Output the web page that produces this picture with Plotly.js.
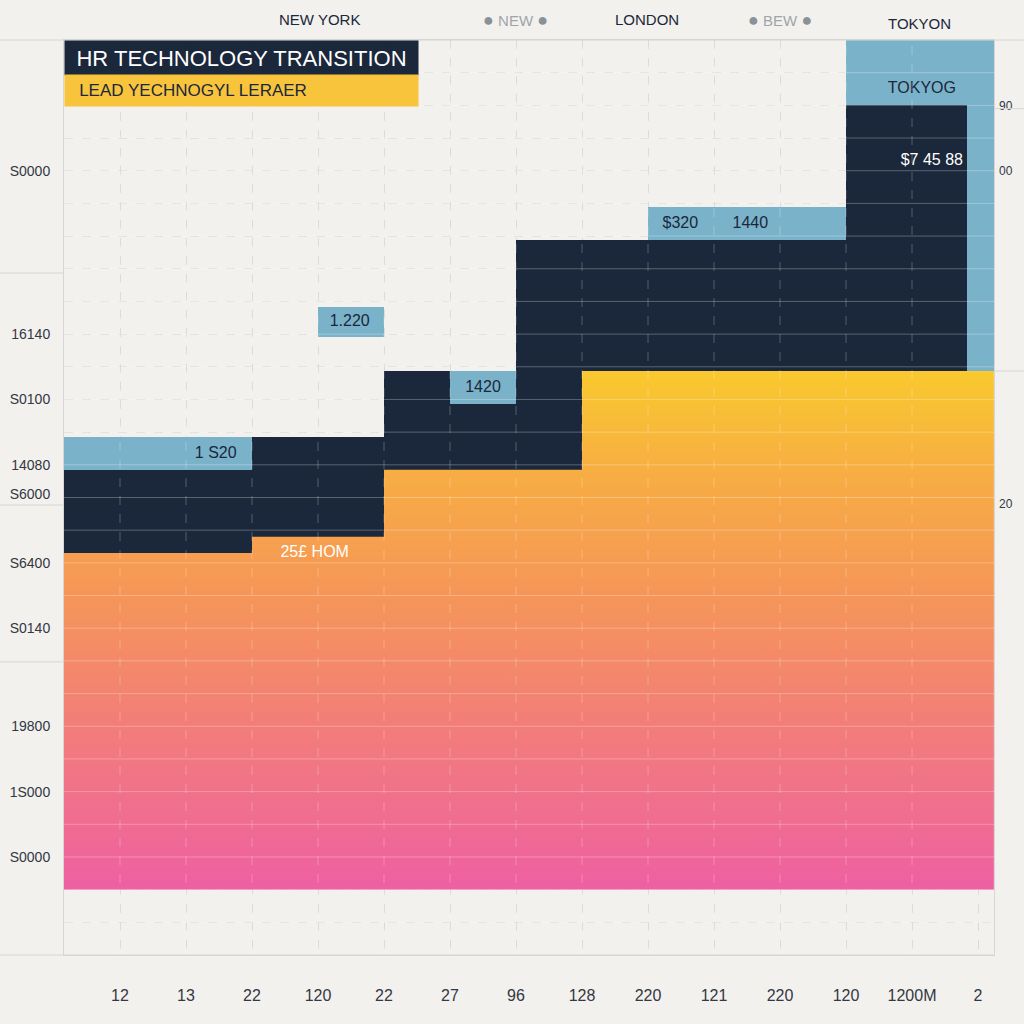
<!DOCTYPE html>
<html>
<head>
<meta charset="utf-8">
<script src="https://cdn.plot.ly/plotly-3.0.1.min.js"></script>
<style>
  html, body { margin: 0; padding: 0; background: #f2f1ee; }
  #chart { width: 1024px; height: 1024px; }
</style>
</head>
<body>
<div id="chart"></div>
<script>
// ---- categories / tick labels ----
const xTickVals = [1, 2, 3, 4, 5, 6, 7, 8, 9, 10, 11, 12, 13, 14];
const xTickText = ['12', '13', '22', '120', '22', '27', '96', '128', '220', '121', '220', '120', '1200M', '2'];
const yTickVals = [24, 19, 17, 15, 14.1, 12, 10, 7, 5, 3];
const yTickText = ['S0000', '16140', 'S0100', '14080', 'S6000', 'S6400', 'S0140', '19800', '1S000', 'S0000'];
const y2TickVals = [26, 24, 13.8];
const y2TickText = ['90', '00', '20'];
const cityNames = ['NEW YORK', 'NEW', 'LONDON', 'BEW', 'TOKYON'];

// ---- gradient base (stepped) ----
const baseFloor = 2;
const baseEdges = [0.15, 3, 5, 8, 14.24];
const baseTops = [12.3, 12.8, 14.85, 17.87];

// ---- navy blocks ----
const navyLeft = [0.15, 3, 5, 6, 7, 8, 12];
const navyRight = [3, 5, 6, 7, 8, 12, 13.83];
const navyBottom = [12.3, 12.8, 14.85, 14.85, 14.85, 17.87, 17.87];
const navyTop = [14.85, 15.85, 17.87, 16.86, 21.88, 21.88, 26.0];

// ---- light blue blocks ----
const blueLeft = [0.15, 4, 6, 9, 12, 13.83];
const blueRight = [3, 5, 7, 12, 14.24, 14.24];
const blueBottom = [14.85, 18.9, 16.86, 21.88, 26.0, 17.87];
const blueTop = [15.85, 19.83, 17.87, 22.9, 28.0, 26.0];

// ---- faded strip ----
const fadeLeft = [13.83];
const fadeRight = [14.24];
const fadeBottom = [13.8];
const fadeTop = [17.87];

// ---- value labels ----
const darkLabels = ['1 S20', '1.220', '1420', '$320', '1440', 'TOKYOG'];
const darkLabelX = [2.45, 4.48, 6.5, 9.49, 10.55, 13.15];
const darkLabelY = [15.33, 19.36, 17.36, 22.38, 22.38, 26.5];
const lightLabels = ['$7 45 88', '25£ HOM'];
const lightLabelX = [13.3, 3.95];
const lightLabelY = [24.3, 12.3];

const NAVY = '#1b273a';
const BLUE = '#7ab2ca';
const FONT = '"Liberation Sans", Arial, sans-serif';

// stepped outline of the base
const bx = [baseEdges[0]], by = [baseFloor];
for (let i = 0; i < baseTops.length; i++) {
  bx.push(baseEdges[i], baseEdges[i + 1]);
  by.push(baseTops[i], baseTops[i]);
}
bx.push(baseEdges[baseEdges.length - 1], baseEdges[0]);
by.push(baseFloor, baseFloor);

function blockTrace(L, R, B, T, color) {
  return {
    type: 'bar',
    x: L.map((l, i) => (l + R[i]) / 2),
    width: L.map((l, i) => R[i] - l),
    base: B,
    y: T.map((t, i) => t - B[i]),
    marker: { color: color, line: { width: 0 } },
    hoverinfo: 'skip',
    showlegend: false
  };
}

const traces = [
  {
    type: 'scatter', mode: 'lines', x: bx, y: by,
    fill: 'toself',
    line: { width: 0, color: 'rgba(0,0,0,0)' },
    fillgradient: {
      type: 'vertical',
      start: baseFloor, stop: 17.87,
      colorscale: [[0, '#ee60a2'], [0.3, '#f27c7b'], [0.55, '#f5945a'], [0.8, '#f7ad43'], [1, '#f9c92e']]
    },
    hoverinfo: 'skip', showlegend: false
  },
  blockTrace(fadeLeft, fadeRight, fadeBottom, fadeTop, 'rgba(255,255,255,0.22)'),
  blockTrace(navyLeft, navyRight, navyBottom, navyTop, NAVY),
  blockTrace(blueLeft, blueRight, blueBottom, blueTop, BLUE),
  {
    type: 'scatter', mode: 'text', x: darkLabelX, y: darkLabelY, text: darkLabels,
    textfont: { family: FONT, size: 16, color: NAVY }, hoverinfo: 'skip', showlegend: false
  },
  {
    type: 'scatter', mode: 'text', x: lightLabelX, y: lightLabelY, text: lightLabels,
    textfont: { family: FONT, size: 16, color: '#ffffff' }, hoverinfo: 'skip', showlegend: false
  },
  { type: 'scatter', mode: 'markers', x: [14], y: [26], yaxis: 'y2', marker: { opacity: 0 }, hoverinfo: 'skip', showlegend: false }
];

const cityX = [0.275, 0.485, 0.627, 0.77, 0.92];
const cityY = [1.022, 1.022, 1.022, 1.022, 1.0175];
const dot = '<span style="color:#8a9299;font-size:18px">●</span>';
const cityText = [cityNames[0], dot + ' ' + cityNames[1] + ' ' + dot, cityNames[2],
  dot + ' ' + cityNames[3] + ' ' + dot, cityNames[4]];
const cityColor = [NAVY, '#a0a5aa', NAVY, '#a0a5aa', NAVY];

const annotations = cityText.map((t, i) => ({
  xref: 'paper', yref: 'paper', x: cityX[i], y: cityY[i], text: t, showarrow: false,
  font: { family: FONT, size: 15, color: cityColor[i] }, xanchor: 'center', yanchor: 'middle'
}));
annotations.push({
  xref: 'paper', yref: 'paper', x: 0, y: 0.9995, xanchor: 'left', yanchor: 'top',
  text: 'HR TECHNOLOGY TRANSITION', showarrow: false, align: 'center',
  width: 353, height: 34, bgcolor: NAVY, borderpad: 0,
  font: { family: FONT, size: 22, color: '#ffffff' }
});
annotations.push({
  xref: 'paper', yref: 'paper', x: 0, y: 0.9625, xanchor: 'left', yanchor: 'top',
  text: '&nbsp;&nbsp;&nbsp;LEAD YECHNOGYL LERAER', showarrow: false, align: 'left',
  width: 353, height: 31, bgcolor: '#f8c43c', borderpad: 0,
  font: { family: FONT, size: 17, color: NAVY }
});

const shapes = [];
// faint grid showing through the coloured blocks
for (let v = 1; v < 28; v++) {
  shapes.push({ type: 'line', xref: 'paper', yref: 'y', x0: 0, x1: 1, y0: v, y1: v, layer: 'above',
    line: { color: 'rgba(255,255,255,0.28)', width: 1 } });
}
xTickVals.slice(0, 13).forEach(v => shapes.push({
  type: 'line', xref: 'x', yref: 'paper', x0: v, x1: v, y0: 0, y1: 1, layer: 'above',
  line: { color: 'rgba(255,255,255,0.25)', width: 1, dash: 'dash' }
}));
[20.87, 13.77, 8.97].forEach(v => shapes.push({
  type: 'line', xref: 'paper', yref: 'y', x0: -0.069, x1: 0, y0: v, y1: v,
  line: { color: '#d6d6d4', width: 1 }
}));
[25.9, 17.87].forEach(v => shapes.push({
  type: 'line', xref: 'paper', yref: 'y', x0: 1, x1: 1.032, y0: v, y1: v,
  line: { color: '#d6d6d4', width: 1 }
}));
shapes.push({ type: 'line', xref: 'paper', yref: 'paper', x0: -0.069, x1: 1.032, y0: 1, y1: 1, line: { color: '#d6d6d4', width: 1 } });
shapes.push({ type: 'line', xref: 'paper', yref: 'paper', x0: -0.069, x1: 1, y0: 0, y1: 0, line: { color: '#d6d6d4', width: 1 } });

const layout = {
  width: 1024, height: 1024,
  margin: { l: 64, r: 30, t: 40, b: 69 },
  paper_bgcolor: '#f2f1ee', plot_bgcolor: '#f2f1ee',
  barmode: 'overlay', bargap: 0,
  showlegend: false,
  font: { family: FONT },
  xaxis: {
    range: [0.1515, 14.242], tickvals: xTickVals, ticktext: xTickText,
    tickfont: { family: FONT, size: 16, color: '#333842' },
    ticks: '', ticklabelstandoff: 26,
    showgrid: true, gridcolor: 'rgba(200,200,200,0.55)', griddash: 'dash', gridwidth: 1,
    zeroline: false, showline: true, mirror: true, linecolor: '#d6d6d4',
    layer: 'above traces', fixedrange: true
  },
  yaxis: {
    range: [0, 28], tickvals: yTickVals, ticktext: yTickText,
    tickfont: { family: FONT, size: 14, color: '#333842' },
    ticks: '', ticklabelstandoff: 10,
    showgrid: false,
    minor: { tickmode: 'linear', tick0: 0, dtick: 1, showgrid: true, gridcolor: 'rgba(205,205,205,0.55)', griddash: 'dash', ticks: '' },
    zeroline: false, showline: true, mirror: true, linecolor: '#d6d6d4',
    layer: 'above traces', fixedrange: true
  },
  yaxis2: {
    overlaying: 'y', side: 'right', range: [0, 28], tickvals: y2TickVals, ticktext: y2TickText,
    tickfont: { family: FONT, size: 12, color: '#333842' }, ticks: '', ticklabelstandoff: 4,
    showgrid: false, zeroline: false, showline: false, fixedrange: true
  },
  annotations: annotations,
  shapes: shapes
};

Plotly.newPlot('chart', traces, layout, { displayModeBar: false, staticPlot: true });
</script>
</body>
</html>
